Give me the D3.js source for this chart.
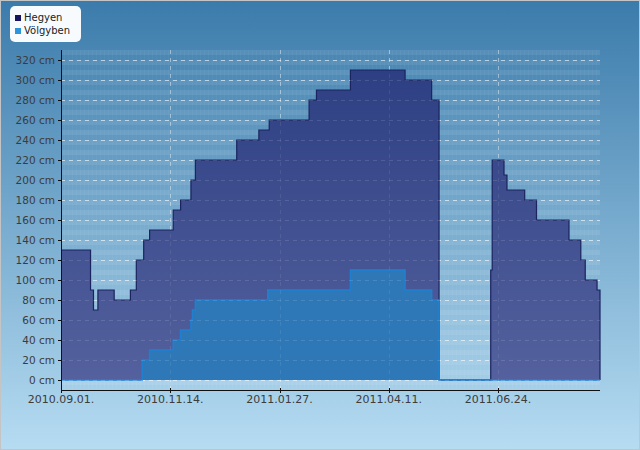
<!DOCTYPE html>
<html>
<head>
<meta charset="utf-8">
<script src="https://cdn.jsdelivr.net/npm/d3@7"></script>
<style>
  html, body { margin: 0; padding: 0; background: #fff; }
  #chart { width: 640px; height: 450px; }
  text { font-family: "DejaVu Sans", sans-serif; }
</style>
</head>
<body>
<div id="chart"></div>
<script>
// series names
var seriesNames = ['Hegyen', 'Völgyben'];

// Hegyen: dates where the snow depth changes and the new value (cm)
var hegyenDates = ['2010-09-01', '2010-09-21', '2010-09-23', '2010-09-26', '2010-10-07', '2010-10-18',
    '2010-10-22', '2010-10-27', '2010-10-31', '2010-11-16', '2010-11-21', '2010-11-28', '2010-12-01',
    '2010-12-29', '2011-01-13', '2011-01-20', '2011-02-16', '2011-02-21', '2011-03-16', '2011-04-22',
    '2011-05-10', '2011-05-15', '2011-06-19', '2011-06-20', '2011-06-28', '2011-06-30', '2011-07-12',
    '2011-07-20', '2011-08-11', '2011-08-19', '2011-08-22', '2011-08-30', '2011-09-01'];
var hegyenValues = [130, 90, 70, 90, 80, 90,
    120, 140, 150, 170, 180, 200, 220,
    240, 250, 260, 280, 290, 310, 300,
    280, 0, 110, 220, 205, 190, 180,
    160, 140, 120, 100, 90, 90];

// Völgyben
var volgyDates = ['2010-09-01', '2010-10-26', '2010-10-31', '2010-11-16', '2010-11-21', '2010-11-28',
    '2010-11-29', '2010-12-01', '2011-01-19', '2011-03-16', '2011-04-22', '2011-05-10', '2011-05-15',
    '2011-09-01'];
var volgyValues = [0, 20, 30, 40, 50, 60,
    70, 80, 90, 110, 90, 80, 0,
    0];

// tick dates on the x axis (every 74 days)
var xTickDates = ['2010-09-01', '2010-11-14', '2011-01-27', '2011-04-11', '2011-06-24'];
var yTicks = [0, 20, 40, 60, 80, 100, 120, 140, 160, 180, 200, 220, 240, 260, 280, 300, 320];

var parseDate = d3.timeParse('%Y-%m-%d');
var fmtDate = d3.timeFormat('%Y.%m.%d.');

var hegyen = hegyenDates.map((d, i) => ({date: parseDate(d), value: hegyenValues[i]}));
var volgy = volgyDates.map((d, i) => ({date: parseDate(d), value: volgyValues[i]}));

var svgWidth = 640, svgHeight = 450;
var plot = {left: 61, right: 600, top: 50, bottom: 390};

var svg = d3.select('#chart').append('svg')
    .attr('width', svgWidth)
    .attr('height', svgHeight);

var defs = svg.append('defs');

// page background
var bgGrad = defs.append('linearGradient').attr('id', 'bgGrad')
    .attr('x1', 0).attr('y1', 0).attr('x2', 0).attr('y2', 1);
bgGrad.append('stop').attr('offset', '0%').attr('stop-color', '#3b7bab');
bgGrad.append('stop').attr('offset', '100%').attr('stop-color', '#b6dcf2');

var hegyGrad = defs.append('linearGradient').attr('id', 'hegyGrad')
    .attr('gradientUnits', 'userSpaceOnUse')
    .attr('x1', 0).attr('y1', 60).attr('x2', 0).attr('y2', 380);
hegyGrad.append('stop').attr('offset', '0%').attr('stop-color', '#2c3e82');
hegyGrad.append('stop').attr('offset', '100%').attr('stop-color', '#54619e');

// faint stripes in the plot area
var stripes = defs.append('pattern').attr('id', 'stripes')
    .attr('patternUnits', 'userSpaceOnUse')
    .attr('x', 0).attr('y', plot.top)
    .attr('width', 4).attr('height', 10);
stripes.append('rect').attr('width', 4).attr('height', 5)
    .attr('fill', '#ffffff').attr('opacity', 0.08);
stripes.append('rect').attr('width', 1).attr('height', 10)
    .attr('fill', '#ffffff').attr('opacity', 0.03);

defs.append('clipPath').attr('id', 'plotClip')
    .append('rect')
    .attr('x', plot.left).attr('y', plot.top - 5)
    .attr('width', plot.right - plot.left + 1).attr('height', plot.bottom - plot.top + 5);

svg.append('rect')
    .attr('x', 0.5).attr('y', 0.5)
    .attr('width', svgWidth - 1).attr('height', svgHeight - 1)
    .attr('fill', 'url(#bgGrad)')
    .attr('stroke', '#c4c4c4');

svg.append('rect')
    .attr('x', plot.left).attr('y', plot.top)
    .attr('width', plot.right - plot.left).attr('height', plot.bottom - plot.top)
    .attr('fill', 'url(#stripes)');

// scales
var x = d3.scaleTime()
    .domain([parseDate('2010-09-01'), parseDate('2011-09-01')])
    .range([plot.left, plot.right]);

var y = d3.scaleLinear()
    .domain([0, 320])
    .range([380, 60]);

var xTicks = xTickDates.map(parseDate);

// grid behind the areas
function drawGrid(g, opacity) {
    g.selectAll('.hgrid').data(yTicks).enter().append('line')
        .attr('x1', plot.left).attr('x2', plot.right)
        .attr('y1', d => y(d) + 0.5).attr('y2', d => y(d) + 0.5)
        .attr('stroke', '#ffffff').attr('stroke-opacity', opacity)
        .attr('stroke-dasharray', '4,4');
    g.selectAll('.vgrid').data(xTicks.slice(1)).enter().append('line')
        .attr('x1', d => Math.round(x(d)) + 0.5).attr('x2', d => Math.round(x(d)) + 0.5)
        .attr('y1', plot.top).attr('y2', plot.bottom)
        .attr('stroke', '#ffffff').attr('stroke-opacity', opacity * 0.7)
        .attr('stroke-dasharray', '4,4');
}
drawGrid(svg.append('g'), 0.55);

var chartGroup = svg.append('g').attr('clip-path', 'url(#plotClip)');

var area = d3.area()
    .curve(d3.curveStepAfter)
    .x(d => x(d.date))
    .y0(y(0))
    .y1(d => y(d.value));

var line = d3.line()
    .curve(d3.curveStepAfter)
    .x(d => x(d.date))
    .y(d => y(d.value));

chartGroup.append('path')
    .datum(hegyen)
    .attr('d', area)
    .attr('fill', 'url(#hegyGrad)');

// outline: top edge plus both vertical ends
chartGroup.append('path')
    .datum(hegyen)
    .attr('d', d => 'M' + x(d[0].date) + ',' + y(0) + 'L' + line(d).slice(1) +
        'L' + x(d[d.length - 1].date) + ',' + y(0))
    .attr('fill', 'none')
    .attr('stroke', '#1b245f')
    .attr('stroke-width', 1.2);

chartGroup.append('path')
    .datum(volgy)
    .attr('d', area)
    .attr('fill', '#2e78b7');

chartGroup.append('path')
    .datum(volgy)
    .attr('d', line)
    .attr('fill', 'none')
    .attr('stroke', '#1f80d2')
    .attr('stroke-width', 1.5);

// faint grid over the areas
drawGrid(svg.append('g'), 0.12);

// axes
var yAxis = svg.append('g');
yAxis.append('line')
    .attr('x1', plot.left + 0.5).attr('x2', plot.left + 0.5)
    .attr('y1', plot.top).attr('y2', plot.bottom + 2)
    .attr('stroke', '#111');
yAxis.selectAll('.tick').data(yTicks).enter().append('line')
    .attr('x1', plot.left - 3).attr('x2', plot.left)
    .attr('y1', d => y(d) + 0.5).attr('y2', d => y(d) + 0.5)
    .attr('stroke', '#111');
yAxis.selectAll('.lbl').data(yTicks).enter().append('text')
    .attr('x', 55)
    .attr('y', d => y(d) + 4)
    .attr('text-anchor', 'end')
    .attr('font-size', '10.5px')
    .attr('fill', '#3c3c3c')
    .text(d => d + ' cm');

var xAxis = svg.append('g');
xAxis.append('line')
    .attr('x1', plot.left).attr('x2', plot.right)
    .attr('y1', plot.bottom + 0.5).attr('y2', plot.bottom + 0.5)
    .attr('stroke', '#111');
xAxis.selectAll('.tick').data(xTicks).enter().append('line')
    .attr('x1', d => Math.round(x(d)) + 0.5).attr('x2', d => Math.round(x(d)) + 0.5)
    .attr('y1', plot.bottom - 2).attr('y2', plot.bottom + 3)
    .attr('stroke', '#111');
xAxis.selectAll('.lbl').data(xTicks).enter().append('text')
    .attr('x', d => x(d))
    .attr('y', 403)
    .attr('text-anchor', 'middle')
    .attr('font-size', '11px')
    .attr('fill', '#3c3c3c')
    .text(d => fmtDate(d));

// legend
var legendColors = ['#151562', '#2a95dd'];
var legend = svg.append('g');
legend.append('rect')
    .attr('x', 10).attr('y', 6)
    .attr('width', 71).attr('height', 36)
    .attr('rx', 5)
    .attr('fill', '#f7fbfe');
var keys = legend.selectAll('.key').data(seriesNames).enter().append('g')
    .attr('transform', (d, i) => 'translate(15,' + (14 + i * 13) + ')');
keys.append('rect')
    .attr('width', 6).attr('height', 6)
    .attr('y', 1)
    .attr('fill', (d, i) => legendColors[i]);
keys.append('text')
    .attr('x', 9).attr('y', 7)
    .attr('font-size', '10px')
    .attr('fill', '#222')
    .text(d => d);
</script>
</body>
</html>
